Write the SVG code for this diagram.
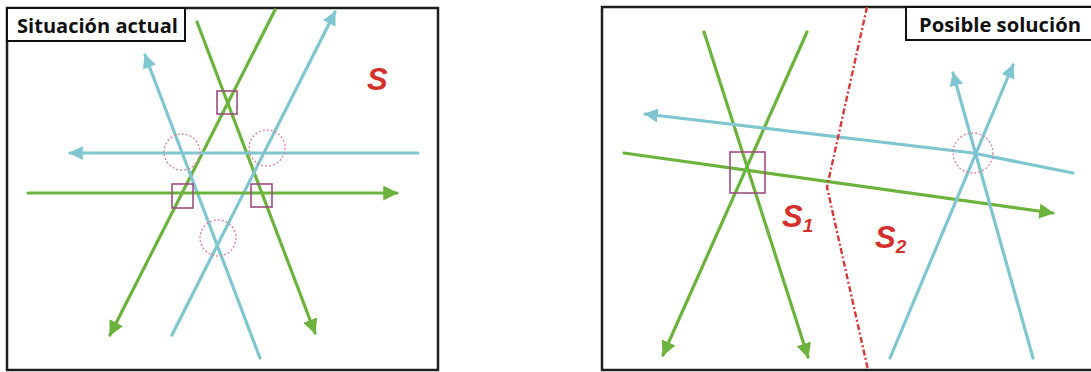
<svg xmlns="http://www.w3.org/2000/svg" width="1091" height="372" viewBox="0 0 1091 372">
<defs>
<style>
.frame{fill:#ffffff;stroke:#1e1e1e;stroke-width:2.5}
.lbl{fill:#ffffff;stroke:#111;stroke-width:2}
.lbltxt{font-family:"Open Sans","Liberation Sans",sans-serif;font-weight:bold;font-size:20px;fill:#111}
.g{fill:none;stroke:#6cb33e;stroke-width:3.2;stroke-linecap:round;stroke-linejoin:round}
.b{fill:none;stroke:#80c6d0;stroke-width:3.2;stroke-linecap:round;stroke-linejoin:round}
.sq{fill:none;stroke:#9c4f82;stroke-width:1.6}
.ci{fill:none;stroke:#d9829f;stroke-width:1.3;stroke-dasharray:2 2}
.red{font-family:"Liberation Sans",Arial,sans-serif;font-weight:bold;font-style:italic;fill:#d6302c}
.div{fill:none;stroke:#d43a3a;stroke-width:2.4;stroke-dasharray:6 2.5 2 2.5}
</style>
<marker id="ag" viewBox="0 0 12 12" refX="11" refY="6" markerWidth="15" markerHeight="15" markerUnits="userSpaceOnUse" orient="auto"><path d="M0,0 L12,6 L0,12 z" fill="#6cb33e"/></marker>
<marker id="ab" viewBox="0 0 12 12" refX="11" refY="6" markerWidth="14" markerHeight="14" markerUnits="userSpaceOnUse" orient="auto"><path d="M0,0 L12,6 L0,12 z" fill="#80c6d0"/></marker>
</defs>
<rect width="1091" height="372" fill="#ffffff"/>

<g id="panel-left">
<rect class="frame" x="7" y="8" width="431" height="362"/>
</g>
<g id="panel-right">
<rect class="frame" x="602" y="7" width="492" height="363"/>
</g>

<g id="connectors">
<!-- left panel -->
<line class="g" x1="275" y1="10" x2="110" y2="335" marker-end="url(#ag)"/>
<line class="g" x1="197" y1="22" x2="315" y2="333" marker-end="url(#ag)"/>
<line class="b" x1="172" y1="335" x2="335" y2="12" marker-end="url(#ab)"/>
<line class="b" x1="260" y1="358" x2="145" y2="55" marker-end="url(#ab)"/>
<line class="b" x1="418" y1="153" x2="70" y2="153" marker-end="url(#ab)"/>
<line class="g" x1="28" y1="193" x2="397" y2="193" marker-end="url(#ag)"/>
<!-- right panel -->
<line class="g" x1="704" y1="32" x2="808" y2="357" marker-end="url(#ag)"/>
<line class="g" x1="807" y1="32" x2="663" y2="355" marker-end="url(#ag)"/>
<polyline class="b" points="1073,173 973,153 645,114" marker-end="url(#ab)"/>
<line class="g" x1="624" y1="153" x2="1053" y2="213" marker-end="url(#ag)"/>
<line class="b" x1="1033" y1="358" x2="953" y2="73" marker-end="url(#ab)"/>
<line class="b" x1="890" y1="358" x2="1013" y2="65" marker-end="url(#ab)"/>
<polyline class="div" points="867,7 827,187 868,370"/>
</g>

<g id="conflicts-left">
<rect class="sq" x="217" y="91" width="20" height="23"/>
<rect class="sq" x="172" y="184" width="21" height="24"/>
<rect class="sq" x="251" y="184" width="21" height="23"/>
<circle class="ci" cx="182" cy="152" r="18"/>
<circle class="ci" cx="267" cy="148" r="18"/>
<circle class="ci" cx="218" cy="238" r="18"/>
</g>
<g id="conflicts-right">
<rect class="sq" x="730" y="152" width="35" height="41"/>
<circle class="ci" cx="973" cy="153" r="20"/>
</g>

<g id="label-left">
<rect class="lbl" x="7" y="8" width="178" height="33"/>
<text class="lbltxt" x="17" y="33" textLength="161" lengthAdjust="spacingAndGlyphs">Situación actual</text>
</g>
<g id="label-right">
<rect class="lbl" x="906" y="7" width="190" height="33"/>
<text class="lbltxt" x="919" y="32" textLength="162" lengthAdjust="spacingAndGlyphs">Posible solución</text>
</g>

<g id="sector-S">
<text class="red" x="367" y="90" font-size="31">S</text>
</g>
<g id="sector-S1">
<text class="red" x="782" y="227" font-size="31">S<tspan font-size="19" dy="5">1</tspan></text>
</g>
<g id="sector-S2">
<text class="red" x="875" y="248" font-size="31">S<tspan font-size="19" dy="5">2</tspan></text>
</g>
</svg>
